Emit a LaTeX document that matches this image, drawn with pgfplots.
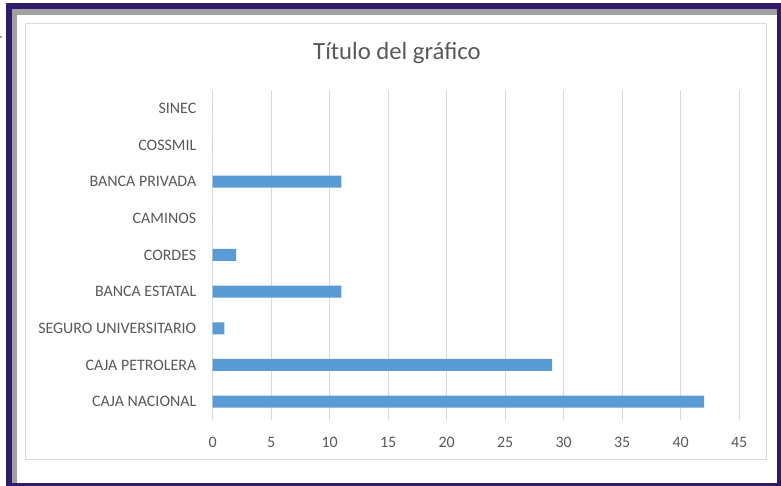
\documentclass[border=0pt]{standalone}
\usepackage{pgfplots}
\pgfplotsset{compat=1.18}
\usepackage{fontspec}
\setmainfont{Carlito}
\definecolor{purp}{HTML}{2F1B6C}
\definecolor{shadow}{HTML}{A0A0A0}
\definecolor{chartborder}{HTML}{D9D9D9}
\definecolor{gridc}{HTML}{D9D9D9}
\definecolor{tc}{HTML}{595959}
\definecolor{barc}{HTML}{5B9BD5}
\begin{document}
\begin{tikzpicture}[x=1bp,y=1bp]
\fill[white] (0,0) rectangle (781,486);
\fill[purp] (6,0) rectangle (781,483);
\fill[shadow] (12,3) rectangle (777,477);
\fill[white] (17,3) rectangle (777,471);
\fill[shadow] (0,448) rectangle (2,450);
\draw[chartborder, line width=1bp] (25,26) rectangle (766,462);
\node[font=\fontsize{24.8}{26}\selectfont, text=tc, anchor=base] at (397,426) {Título del gráfico};
\begin{axis}[
  at={(212.7bp,66bp)}, anchor=south west,
  width=526.5bp, height=330bp, scale only axis,
  xbar, bar width=12bp,
  xmin=0, xmax=45, ymin=-0.5, ymax=8.5,
  xtick={0,5,...,45}, ytick={0,...,8},
  yticklabels={CAJA NACIONAL,CAJA PETROLERA,SEGURO UNIVERSITARIO,BANCA ESTATAL,CORDES,CAMINOS,BANCA PRIVADA,COSSMIL,SINEC},
  axis line style={draw=none},
  tick style={draw=none},
  xmajorgrids,
  grid style={color=gridc, line width=1bp},
  ticklabel style={font=\fontsize{16}{18}\selectfont, text=tc},
  /pgf/number format/assume math mode=true,
  yticklabel style={inner sep=0pt, anchor=east, xshift=-12bp},
  xticklabel style={inner sep=0pt, anchor=north, yshift=-17bp},
]
\addplot[fill=barc, draw=none] coordinates {(42,0) (29,1) (1,2) (11,3) (2,4) (0,5) (11,6) (0,7) (0,8)};
\end{axis}
\end{tikzpicture}
\end{document}
